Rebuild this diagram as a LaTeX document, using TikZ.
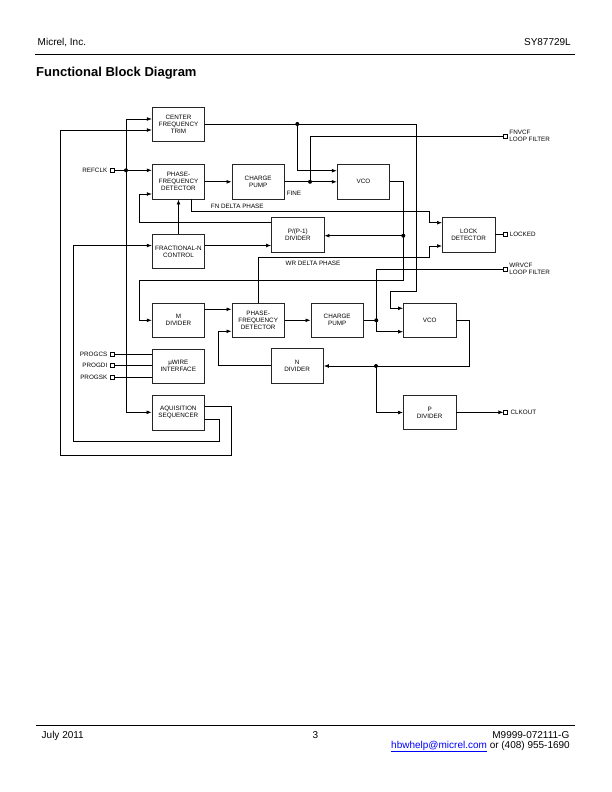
\documentclass[tikz,border=0pt]{standalone}
\usepackage{fontspec}
\setmainfont{Liberation Sans}
\usetikzlibrary{arrows.meta}
\begin{document}
\begin{tikzpicture}[x=1pt,y=-1pt,
  blk/.style={draw=black!85, line width=0.85pt, minimum width=52.5pt, minimum height=34.5pt, inner sep=0pt, align=center, font=\fontsize{6.3}{7}\selectfont},
  wire/.style={line width=0.7pt},
  arr/.style={wire, -{Latex[length=5pt,width=3.8pt]}},
  term/.style={draw, line width=0.7pt, minimum size=3.8pt, inner sep=0pt, fill=white},
  lbl/.style={font=\fontsize{6.3}{7.5}\selectfont, inner sep=0pt},
  pg/.style={font=\fontsize{10}{12}\selectfont, inner sep=0pt},
]
\useasboundingbox (0,0) rectangle (612,792);

% header and footer
\node[pg, anchor=west] at (37.5,42.5) {Micrel, Inc.};
\node[pg, anchor=east] at (571,42.5) {SY87729L};
\draw[line width=1pt] (35,55) -- (575,55);
\node[anchor=west, inner sep=0pt, font=\bfseries\fontsize{13}{15}\selectfont] at (36,73) {Functional Block Diagram};
\draw[line width=1pt] (36,725) -- (575,725);
\node[pg, anchor=west] at (41.5,735.5) {July 2011};
\node[pg] at (315.5,735.5) {3};
\node[pg, anchor=east] at (569.5,735.5) {M9999-072111-G};
\node[pg, anchor=east] at (570,746.5) {{\color{blue}\underline{hbwhelp@micrel.com}} or (408) 955-1690};

% blocks
\node[blk] (cft) at (178.5,124.3) {CENTER\\FREQUENCY\\TRIM};
\node[blk] (pfd1) at (178.5,181.8) {PHASE-\\FREQUENCY\\DETECTOR};
\node[blk] (cp1) at (258.2,181.8) {CHARGE\\PUMP};
\node[blk] (vco1) at (363.5,181.8) {VCO};
\node[blk] (ld) at (468.7,234.8) {LOCK\\DETECTOR};
\node[blk] (fracn) at (178.5,251.5) {FRACTIONAL-N\\CONTROL};
\node[blk] (pdiv) at (297.8,234.7) {P/(P-1)\\DIVIDER};
\node[blk] (mdiv) at (178.5,320.3) {M\\DIVIDER};
\node[blk] (pfd2) at (258.2,320.3) {PHASE-\\FREQUENCY\\DETECTOR};
\node[blk] (cp2) at (337.2,320.3) {CHARGE\\PUMP};
\node[blk] (vco2) at (429.8,320.3) {VCO};
\node[blk] (uw) at (178.3,366.2) {µWIRE\\INTERFACE};
\node[blk] (seq) at (178.3,412.7) {AQUISITION\\SEQUENCER};
\node[blk] (ndiv) at (297.2,365.8) {N\\DIVIDER};
\node[blk] (pout) at (429.7,412.5) {P\\DIVIDER};

% terminals
\node[term] (refclk) at (112.7,170.3) {};
\node[term] (fnvcf) at (505,136) {};
\node[term] (locked) at (505.3,234.3) {};
\node[term] (wrvcf) at (505,269) {};
\node[term] (progcs) at (112.7,354.7) {};
\node[term] (progdi) at (112.7,365.7) {};
\node[term] (progsk) at (112.7,377) {};
\node[term] (clkout) at (505.7,412.3) {};

% junctions
\coordinate (j1) at (126,170.3);
\coordinate (j2) at (297.3,124);
\coordinate (j3) at (310,181.8);
\coordinate (j4) at (403.3,235.7);
\coordinate (j5) at (376.3,320.3);
\coordinate (j6) at (376,366);

% wires
\draw[arr] (refclk) -- (pfd1.west |- refclk);
\draw[arr] (j1) |- (cft.west |- 0,119);
\draw[arr] (j1) |- (seq.west |- 0,412.3);
\draw[arr] (seq.east |- 0,406) -- (231.7,406) -- (231.7,455) -- (60,455) -- (60,130) -- (cft.west |- 0,130);
\draw[arr] (seq.east |- 0,419) -- (219,419) -- (219,441.7) -- (73.3,441.7) -- (73.3,245.5) -- (fracn.west |- 0,245.5);
\draw[arr] (cft.east |- j2) -- (416.5,124) -- (416.5,291) -- (390,291) |- (vco2.west |- 0,308.3);
\draw[arr] (j2) |- (vco1.west |- 0,170.7);
\draw[arr] (pfd1.east) -- (cp1.west);
\draw[arr] (cp1.east) -- (vco1.west);
\draw[wire] (j3) |- (fnvcf);
\draw[wire] (vco1.east) -| (j4);
\draw[arr] (j4) -- (pdiv.east |- j4);
\draw[arr] (j4) -- (403.3,280) -- (139.3,280) |- (mdiv.west);
\draw[arr] (pdiv.west |- 0,222.7) -- (139.3,222.7) |- (pfd1.west |- 0,194);
\draw[arr] (fracn.north) -- (pfd1.south);
\draw[arr] (fracn.east |- 0,245.5) -- (pdiv.west |- 0,245.5);
\draw[arr] (pfd1.south -| 191.7,0) |- (429.3,211) |- (ld.west |- 0,222.7);
\draw[arr] (pfd2.north -| 258.3,0) |- (429.3,257.5) |- (ld.west |- 0,246);
\draw[wire] (ld.east |- locked) -- (locked);
\draw[arr] (mdiv.east |- 0,309.3) -- (pfd2.west |- 0,309.3);
\draw[arr] (pfd2.east) -- (cp2.west);
\draw[arr] (cp2.east) -- (j5) |- (vco2.west |- 0,331.7);
\draw[wire] (j5) |- (wrvcf);
\draw[arr] (vco2.east) -| (469,366) -- (ndiv.east |- j6);
\draw[arr] (j6) |- (pout.west);
\draw[arr] (pout.east |- clkout) -- (clkout);
\draw[arr] (ndiv.west) -| (218.3,331.3) -- (pfd2.west |- 0,331.3);
\draw[wire] (progcs) -- (uw.west |- progcs);
\draw[wire] (progdi) -- (uw.west |- progdi);
\draw[wire] (progsk) -- (uw.west |- progsk);

\foreach \j in {j1,j2,j3,j4,j5,j6} \fill (\j) circle (2pt);

% labels
\node[lbl, anchor=east] at ([xshift=-3pt]refclk.west) {REFCLK};
\node[lbl, anchor=east] at ([xshift=-3pt]progcs.west) {PROGCS};
\node[lbl, anchor=east] at ([xshift=-3pt]progdi.west) {PROGDI};
\node[lbl, anchor=east] at ([xshift=-3pt]progsk.west) {PROGSK};
\node[lbl, anchor=west, align=left] at ([xshift=2pt]fnvcf.east) {FNVCF\\LOOP FILTER};
\node[lbl, anchor=west, align=left] at ([xshift=2pt]wrvcf.east) {WRVCF\\LOOP FILTER};
\node[lbl, anchor=west] at ([xshift=2pt]locked.east) {LOCKED};
\node[lbl, anchor=west] at ([xshift=2.5pt]clkout.east) {CLKOUT};
\node[lbl] at (294,193.3) {FINE};
\node[lbl] at (237.3,206.5) {FN DELTA PHASE};
\node[lbl] at (313,263.5) {WR DELTA PHASE};
\end{tikzpicture}
\end{document}
